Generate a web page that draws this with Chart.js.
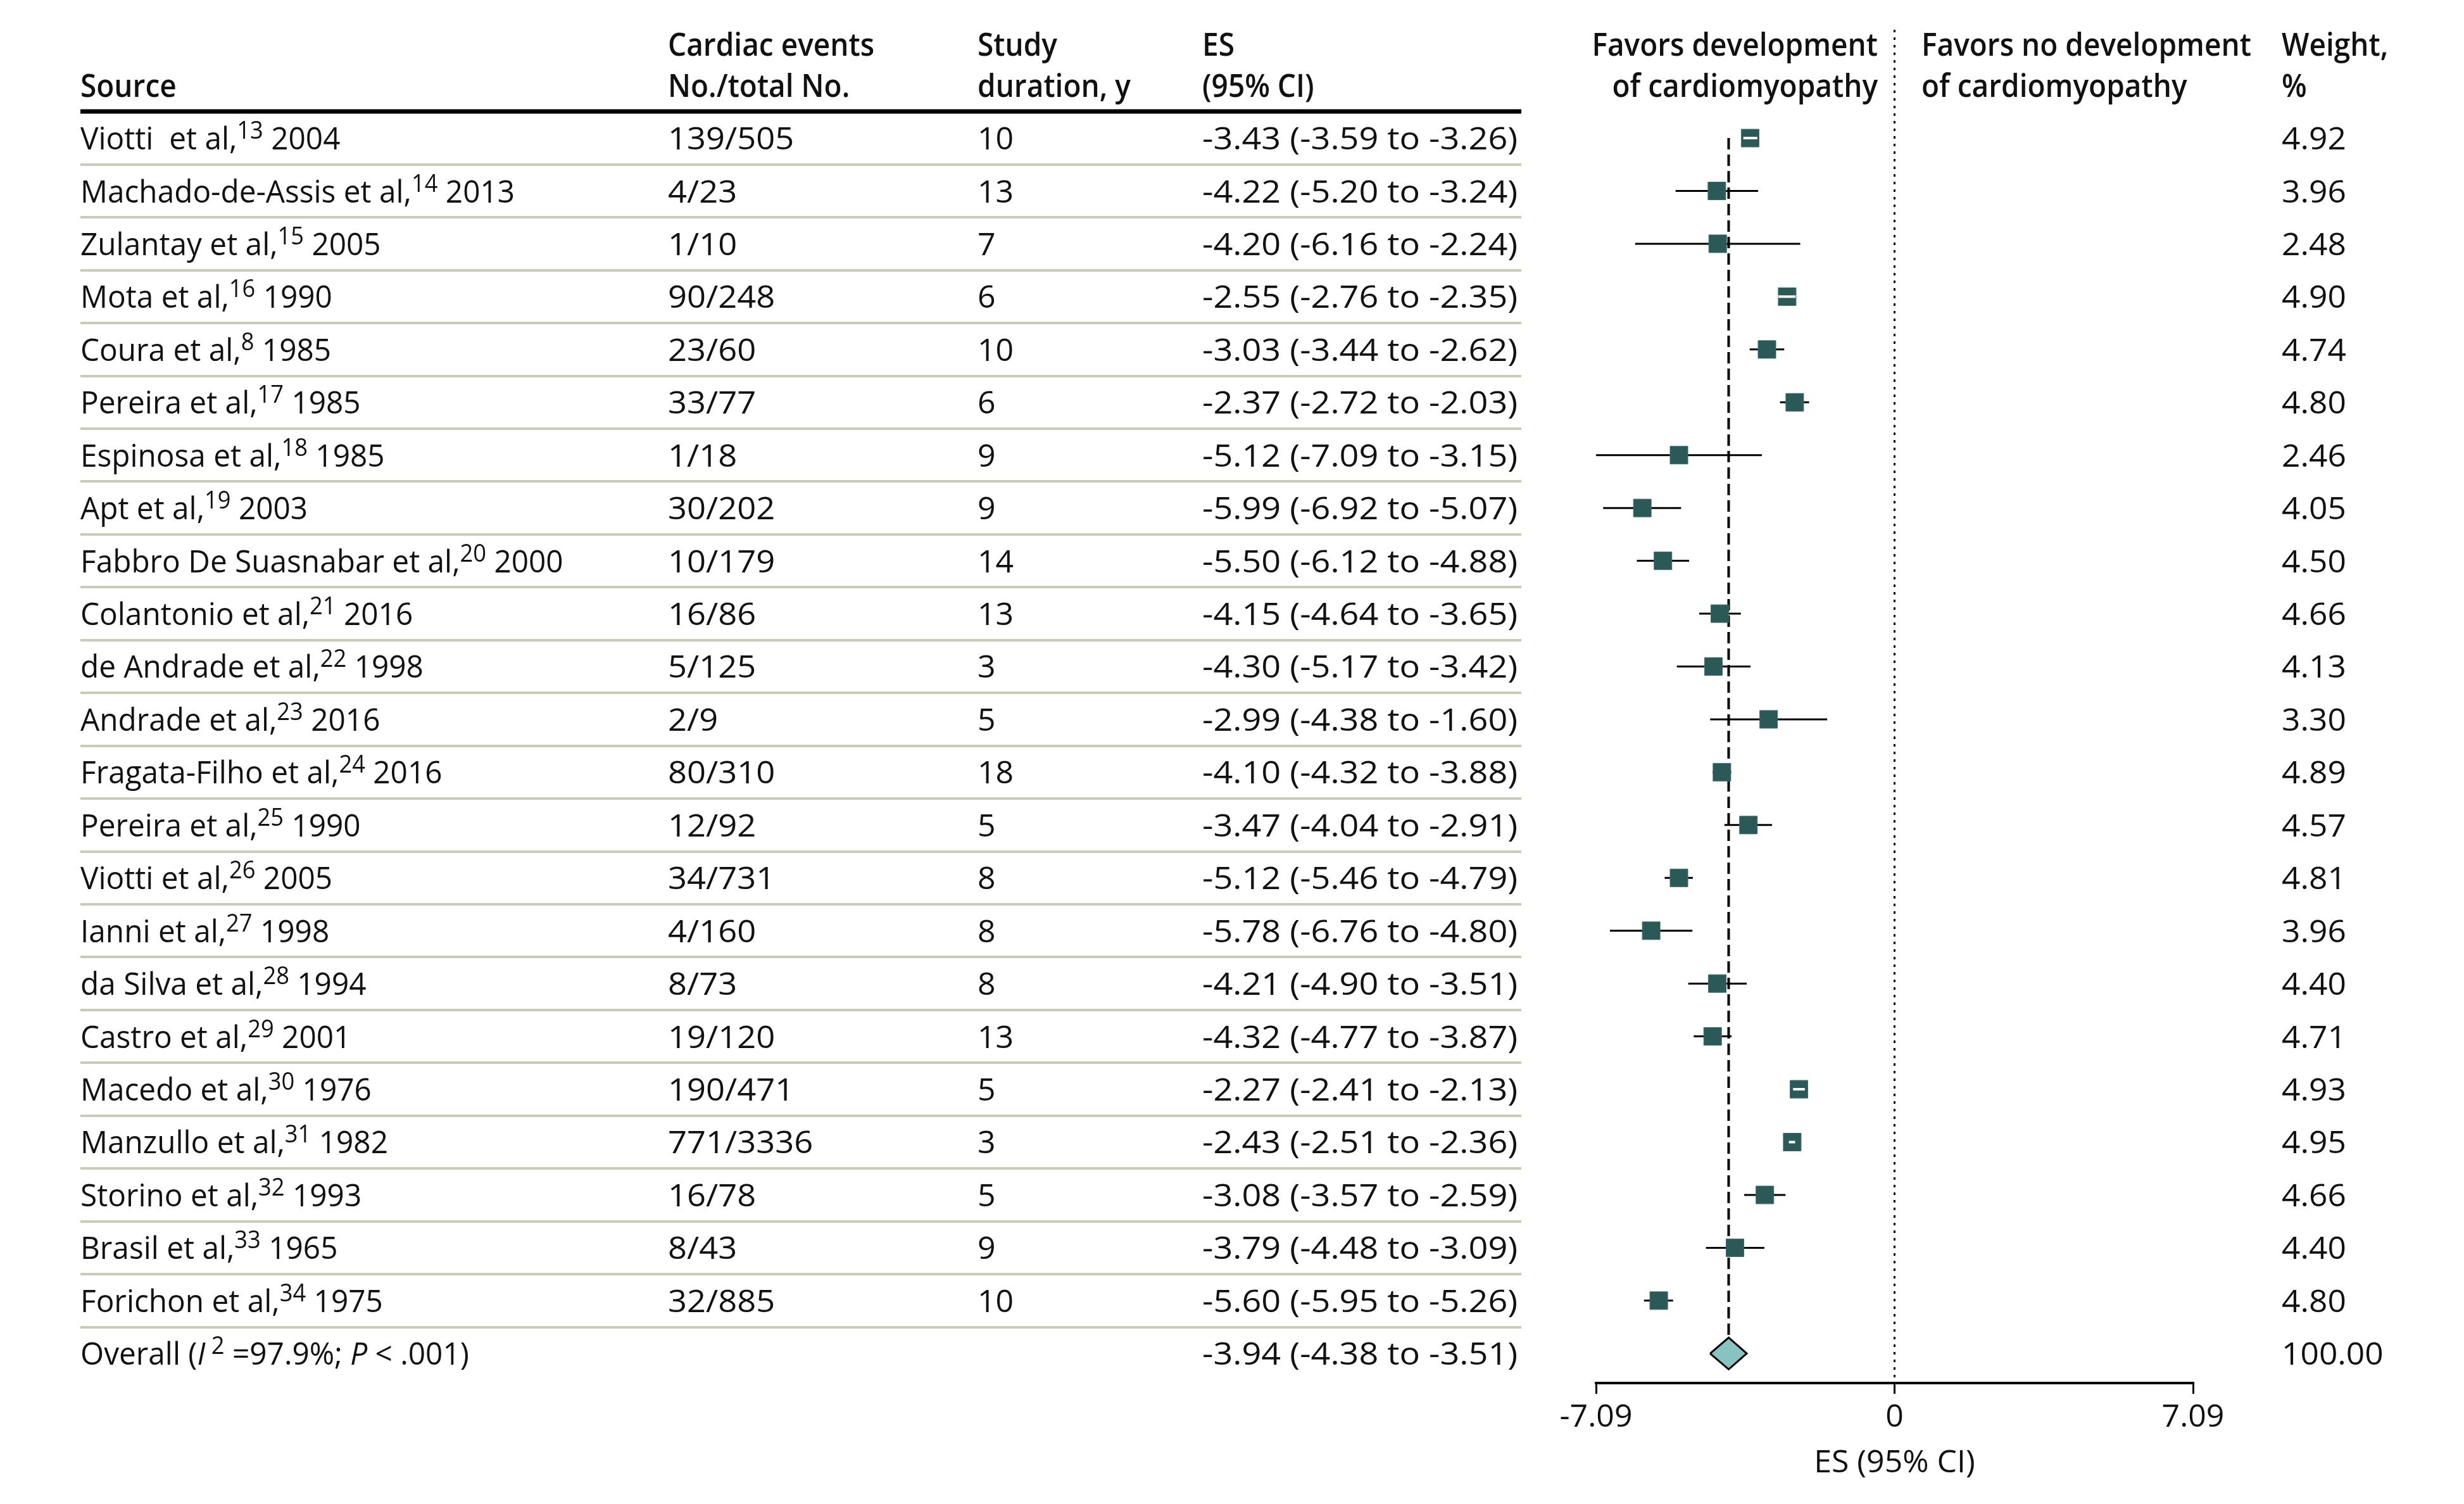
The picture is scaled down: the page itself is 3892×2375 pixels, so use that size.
<!DOCTYPE html>
<html>
<head>
<meta charset="utf-8">
<title>Forest plot</title>
<script src="https://cdn.jsdelivr.net/npm/chart.js@4.4.1/dist/chart.umd.min.js"></script>
<style>
  body { margin: 0; background: #fff; }
  canvas { display: block; }
</style>
</head>
<body>
<canvas id="forest-chart" width="3892" height="2375"></canvas>
<script>
// study rows, top to bottom
var sources = ["Viotti  et al,", "Machado-de-Assis et al,", "Zulantay et al,", "Mota et al,", "Coura et al,",
    "Pereira et al,", "Espinosa et al,", "Apt et al,", "Fabbro De Suasnabar et al,", "Colantonio et al,",
    "de Andrade et al,", "Andrade et al,", "Fragata-Filho et al,", "Pereira et al,", "Viotti et al,",
    "Ianni et al,", "da Silva et al,", "Castro et al,", "Macedo et al,", "Manzullo et al,",
    "Storino et al,", "Brasil et al,", "Forichon et al,"];
var refs = ["13", "14", "15", "16", "8", "17", "18", "19", "20", "21", "22", "23", "24", "25", "26", "27",
    "28", "29", "30", "31", "32", "33", "34"];
var years = ["2004", "2013", "2005", "1990", "1985", "1985", "1985", "2003", "2000", "2016", "1998", "2016",
    "2016", "1990", "2005", "1998", "1994", "2001", "1976", "1982", "1993", "1965", "1975"];
var events = ["139/505", "4/23", "1/10", "90/248", "23/60", "33/77", "1/18", "30/202", "10/179", "16/86",
    "5/125", "2/9", "80/310", "12/92", "34/731", "4/160", "8/73", "19/120", "190/471", "771/3336",
    "16/78", "8/43", "32/885"];
var durations = [10, 13, 7, 6, 10, 6, 9, 9, 14, 13, 3, 5, 18, 5, 8, 8, 8, 13, 5, 3, 5, 9, 10];
var es = [-3.43, -4.22, -4.20, -2.55, -3.03, -2.37, -5.12, -5.99, -5.50, -4.15, -4.30, -2.99, -4.10, -3.47,
    -5.12, -5.78, -4.21, -4.32, -2.27, -2.43, -3.08, -3.79, -5.60];
var ciLow = [-3.59, -5.20, -6.16, -2.76, -3.44, -2.72, -7.09, -6.92, -6.12, -4.64, -5.17, -4.38, -4.32, -4.04,
    -5.46, -6.76, -4.90, -4.77, -2.41, -2.51, -3.57, -4.48, -5.95];
var ciHigh = [-3.26, -3.24, -2.24, -2.35, -2.62, -2.03, -3.15, -5.07, -4.88, -3.65, -3.42, -1.60, -3.88, -2.91,
    -4.79, -4.80, -3.51, -3.87, -2.13, -2.36, -2.59, -3.09, -5.26];
var weights = [4.92, 3.96, 2.48, 4.90, 4.74, 4.80, 2.46, 4.05, 4.50, 4.66, 4.13, 3.30, 4.89, 4.57, 4.81, 3.96,
    4.40, 4.71, 4.93, 4.95, 4.66, 4.40, 4.80];

// pooled estimate
var overallEs = -3.94;
var overallLow = -4.38;
var overallHigh = -3.51;
var overallWeight = 100;
var overallI2 = "97.9%";
var overallP = ".001";

var xTicks = [-7.09, 0, 7.09];
var xTitle = "ES (95% CI)";

// layout
var yMin = -2.05, yMax = 23.56;
var boxSide = 28;
var fontSize = 50;
var supScale = 0.76;
var ink = "#111";
var tableLeft = 127, tableRight = 2403;
var colEvents = 1055, colDuration = 1544, colEs = 1899;
var favLeftX = 2966, favRightX = 3035, colWeight = 3604;
var headerSquash = 0.92;
var sourceSquash = 0.955, eventsStretch = 1.05, esStretch = 1.08, weightStretch = 1.03;

var overallRow = sources.length;

function fmt(v) {
    return v.toFixed(2);
}

function esText(v, lo, hi) {
    return fmt(v) + " (" + fmt(lo) + " to " + fmt(hi) + ")";
}

function drawText(ctx, text, x, y, sx) {
    ctx.save();
    ctx.translate(x, y);
    ctx.scale(sx, 1);
    ctx.font = fontSize + 'px "Open Sans"';
    ctx.fillText(text, 0, 0);
    ctx.restore();
}

function drawParts(ctx, parts, x, y, sx) {
    ctx.save();
    ctx.translate(x, y);
    ctx.scale(sx, 1);
    var cx = 0;
    for (var i = 0; i < parts.length; i++) {
        var p = parts[i];
        var size = p.sup ? Math.round(fontSize * supScale) : fontSize;
        ctx.font = (p.italic ? "italic " : "") + size + 'px "Open Sans"';
        ctx.fillText(p.text, cx, p.sup ? -fontSize * 0.34 : 0);
        cx += ctx.measureText(p.text).width;
    }
    ctx.restore();
}

function drawHeader(ctx, text, x, y, align) {
    ctx.save();
    ctx.translate(x, y);
    ctx.scale(headerSquash, 1);
    ctx.font = '600 ' + fontSize + 'px "Open Sans"';
    ctx.textAlign = align;
    ctx.fillText(text, 0, 0);
    ctx.restore();
}

var tablePlugin = {
    id: "table",
    beforeDatasetsDraw: function (chart) {
        var ctx = chart.ctx;
        var y = chart.scales.y;
        ctx.save();
        ctx.strokeStyle = "#c8cbb6";
        ctx.lineWidth = 4;
        for (var i = 0; i < sources.length; i++) {
            var py = Math.round(y.getPixelForValue(i + 0.5));
            ctx.beginPath();
            ctx.moveTo(tableLeft, py);
            ctx.lineTo(tableRight, py);
            ctx.stroke();
        }
        ctx.strokeStyle = "#000";
        ctx.lineWidth = 7;
        var hy = Math.round(y.getPixelForValue(-0.5));
        ctx.beginPath();
        ctx.moveTo(tableLeft, hy);
        ctx.lineTo(tableRight, hy);
        ctx.stroke();
        ctx.restore();
    },
    afterDatasetsDraw: function (chart) {
        var ctx = chart.ctx;
        var y = chart.scales.y;
        var shift = fontSize * 0.36;
        ctx.save();
        ctx.fillStyle = ink;
        ctx.textBaseline = "alphabetic";
        ctx.textAlign = "left";

        // column headers
        var h1 = y.getPixelForValue(-1.77) + shift;
        var h2 = y.getPixelForValue(-1.0) + shift;
        drawHeader(ctx, "Source", tableLeft, h2, "left");
        drawHeader(ctx, "Cardiac events", colEvents, h1, "left");
        drawHeader(ctx, "No./total No.", colEvents, h2, "left");
        drawHeader(ctx, "Study", colDuration, h1, "left");
        drawHeader(ctx, "duration, y", colDuration, h2, "left");
        drawHeader(ctx, "ES", colEs, h1, "left");
        drawHeader(ctx, "(95% CI)", colEs, h2, "left");
        drawHeader(ctx, "Favors development", favLeftX, h1, "right");
        drawHeader(ctx, "of cardiomyopathy", favLeftX, h2, "right");
        drawHeader(ctx, "Favors no development", favRightX, h1, "left");
        drawHeader(ctx, "of cardiomyopathy", favRightX, h2, "left");
        drawHeader(ctx, "Weight,", colWeight, h1, "left");
        drawHeader(ctx, "%", colWeight, h2, "left");

        // study rows
        for (var i = 0; i < sources.length; i++) {
            var py = y.getPixelForValue(i) + shift;
            drawParts(ctx, [{ text: sources[i] }, { text: refs[i], sup: true }, { text: " " + years[i] }],
                tableLeft, py, sourceSquash);
            drawText(ctx, events[i], colEvents, py, eventsStretch);
            drawText(ctx, String(durations[i]), colDuration, py, 1);
            drawText(ctx, esText(es[i], ciLow[i], ciHigh[i]), colEs, py, esStretch);
            drawText(ctx, fmt(weights[i]), colWeight, py, weightStretch);
        }

        // overall row
        var oy = y.getPixelForValue(overallRow) + shift;
        drawParts(ctx, [
            { text: "Overall (" },
            { text: "I", italic: true },
            { text: " 2", sup: true },
            { text: " =" + overallI2 + "; " },
            { text: "P", italic: true },
            { text: " < " + overallP + ")" }
        ], tableLeft, oy, sourceSquash);
        drawText(ctx, esText(overallEs, overallLow, overallHigh), colEs, oy, esStretch);
        drawText(ctx, fmt(overallWeight), colWeight, oy, weightStretch);
        ctx.restore();
    }
};

function buildCiData() {
    var pts = [];
    for (var i = 0; i < sources.length; i++) {
        pts.push({ x: ciLow[i], y: i });
        pts.push({ x: ciHigh[i], y: i });
        pts.push({ x: null, y: null });
    }
    return pts;
}

function buildMarkerData() {
    var pts = [];
    for (var i = 0; i < sources.length; i++) {
        pts.push({ x: es[i], y: i });
    }
    return pts;
}

var diamondHalf = 0.3;

Chart.defaults.font.family = '"Open Sans"';
Chart.defaults.color = ink;

var forestChart = new Chart(document.getElementById("forest-chart"), {
    type: "scatter",
    plugins: [tablePlugin],
    data: {
        datasets: [
            {
                // vertical line at no effect
                type: "line",
                data: [{ x: 0, y: yMin }, { x: 0, y: yMax }],
                borderColor: "#000",
                borderWidth: 3,
                borderDash: [4, 8],
                pointRadius: 0,
                clip: false,
                order: 6
            },
            {
                // pooled estimate line
                type: "line",
                data: [{ x: overallEs, y: 0 }, { x: overallEs, y: overallRow - diamondHalf }],
                borderColor: "#000",
                borderWidth: 4,
                borderDash: [18, 8],
                pointRadius: 0,
                clip: false,
                order: 5
            },
            {
                type: "line",
                data: buildCiData(),
                borderColor: "#000",
                borderWidth: 3,
                pointRadius: 0,
                spanGaps: false,
                clip: false,
                order: 4
            },
            {
                data: buildMarkerData(),
                pointStyle: "rect",
                pointRadius: boxSide / (2 * Math.SQRT1_2),
                backgroundColor: "#2b5957",
                borderColor: "#3f6c6a",
                borderWidth: 1,
                clip: false,
                order: 3
            },
            {
                // CI drawn in white when it fits inside the box
                type: "line",
                data: buildCiData(),
                borderColor: "rgba(0,0,0,0)",
                borderWidth: 4,
                pointRadius: 0,
                spanGaps: false,
                clip: false,
                segment: {
                    borderColor: function (c) {
                        return (c.p1.x - c.p0.x) < boxSide ? "#fff" : "rgba(0,0,0,0)";
                    }
                },
                order: 2
            },
            {
                type: "line",
                data: [
                    { x: overallLow, y: overallRow },
                    { x: overallEs, y: overallRow - diamondHalf },
                    { x: overallHigh, y: overallRow },
                    { x: overallEs, y: overallRow + diamondHalf },
                    { x: overallLow, y: overallRow }
                ],
                borderColor: "#000",
                borderWidth: 3,
                backgroundColor: "#88c3bf",
                fill: "shape",
                pointRadius: 0,
                tension: 0,
                clip: false,
                order: 1
            }
        ]
    },
    options: {
        responsive: false,
        devicePixelRatio: 1,
        animation: false,
        events: [],
        layout: {
            padding: { left: 2521, right: 428, top: 47, bottom: 0 }
        },
        plugins: {
            legend: { display: false },
            tooltip: { enabled: false }
        },
        scales: {
            x: {
                type: "linear",
                min: xTicks[0],
                max: xTicks[xTicks.length - 1],
                afterBuildTicks: function (scale) {
                    scale.ticks = xTicks.map(function (v) { return { value: v }; });
                },
                afterFit: function (scale) {
                    scale.height = 191;
                },
                grid: {
                    drawOnChartArea: false,
                    drawTicks: true,
                    tickLength: 17,
                    color: "#000",
                    lineWidth: 3
                },
                border: { display: true, color: "#000", width: 4 },
                ticks: {
                    padding: 8,
                    maxRotation: 0,
                    font: { size: fontSize },
                    color: ink,
                    callback: function (value) { return String(value); }
                },
                title: {
                    display: true,
                    text: xTitle,
                    font: { size: fontSize },
                    color: ink,
                    padding: { top: 0, bottom: 34 }
                }
            },
            y: {
                type: "linear",
                display: false,
                reverse: true,
                min: yMin,
                max: yMax
            }
        }
    }
});
</script>
</body>
</html>
